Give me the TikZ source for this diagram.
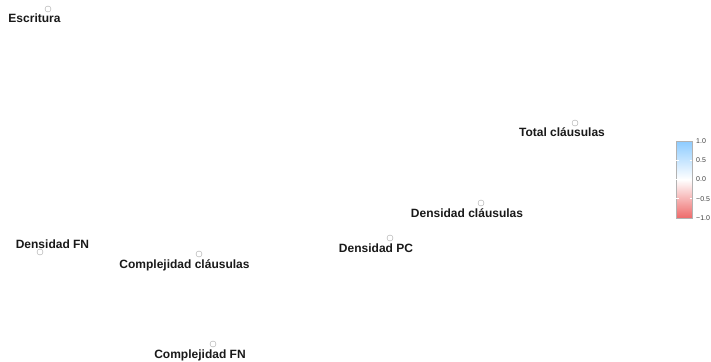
\documentclass[tikz,border=0pt]{standalone}
\usepackage{fontspec}
\setmainfont{Liberation Sans}
\begin{document}
\begin{tikzpicture}[x=1pt,y=-1pt,
  vnode/.style={circle,draw=gray!70,line width=0.4pt,inner sep=0pt,minimum size=6pt},
  vlabel/.style={anchor=base,inner sep=0pt,font=\bfseries\fontsize{12}{12}\selectfont,text=black!90},
  leglabel/.style={anchor=west,inner sep=0pt,font=\fontsize{7}{7}\selectfont,text=black!75}]
\useasboundingbox[fill=white] (0,0) rectangle (711,361);
% nodes
\node[vnode] (n1) at (48,9) {};
\node[vlabel] (l1) at (34.5,23) {Escritura};
\node[vnode] (n2) at (575,123) {};
\node[vlabel] (l2) at (562,136) {Total cláusulas};
\node[vnode] (n3) at (481,203) {};
\node[vlabel] (l3) at (467,217) {Densidad cláusulas};
\node[vnode] (n4) at (390,238) {};
\node[vlabel] (l4) at (376,252) {Densidad PC};
\node[vnode] (n5) at (40,252) {};
\node[vlabel] (l5) at (52.5,248) {Densidad FN};
\node[vnode] (n6) at (199,254) {};
\node[vlabel] (l6) at (184.5,268) {Complejidad cláusulas};
\node[vnode] (n7) at (213,344) {};
\node[vlabel] (l7) at (200,358) {Complejidad FN};
% legend
\definecolor{legblue}{HTML}{8CCBFF}
\definecolor{legred}{HTML}{EE6A6A}
\shade[top color=legblue,bottom color=white] (676,141) rectangle (692,179.5);
\shade[top color=white,bottom color=legred] (676,179.5) rectangle (692,218);
\draw[gray!60,line width=0.5pt] (676,141) rectangle (692,218);
\foreach \yy in {160.25,179.5,198.75}{
  \draw[white,line width=0.6pt] (676.3,\yy) -- (678.5,\yy);
  \draw[white,line width=0.6pt] (689.5,\yy) -- (691.7,\yy);
}
\node[leglabel] (t1) at (696,141) {1.0};
\node[leglabel] (t2) at (696,160.25) {0.5};
\node[leglabel] (t3) at (696,179.5) {0.0};
\node[leglabel] (t4) at (696,198.75) {−0.5};
\node[leglabel] (t5) at (696,218) {−1.0};
\end{tikzpicture}
\end{document}
